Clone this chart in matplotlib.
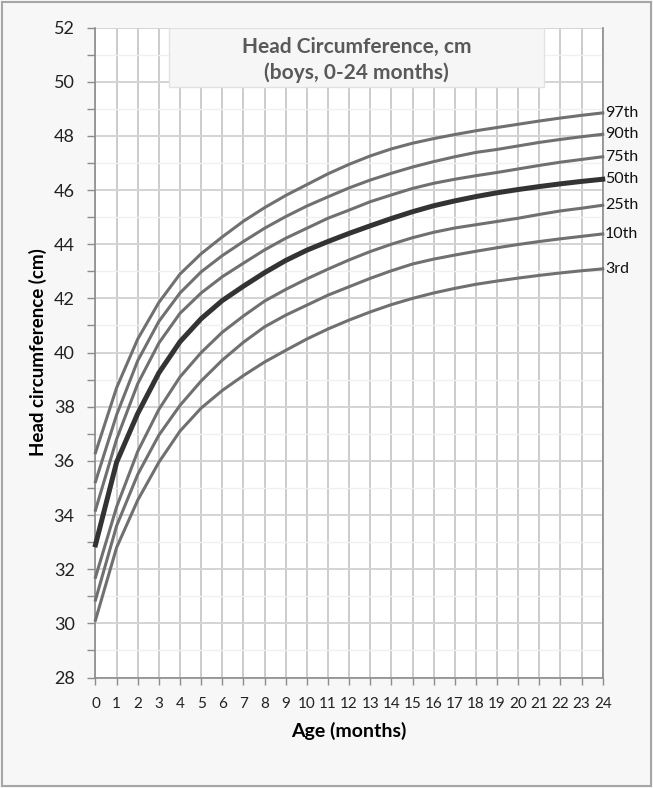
import matplotlib.pyplot as plt
from matplotlib.patches import Rectangle

plt.rcParams['font.family'] = ['Lato', 'DejaVu Sans']

# Head circumference (cm), boys at each month
months = list(range(25))
p3 = [30.12, 32.8, 34.55, 35.95, 37.1, 37.95, 38.6, 39.15, 39.65, 40.08, 40.5, 40.87, 41.2,
      41.5, 41.77, 42.0, 42.2, 42.37, 42.52, 42.64, 42.75, 42.85, 42.94, 43.02, 43.09]
p10 = [30.86, 33.6, 35.5, 36.95, 38.05, 38.95, 39.72, 40.38, 40.95, 41.38, 41.75, 42.12, 42.43,
       42.74, 43.02, 43.27, 43.45, 43.6, 43.74, 43.87, 43.99, 44.1, 44.2, 44.29, 44.38]
p25 = [31.7, 34.3, 36.35, 37.9, 39.1, 40.0, 40.75, 41.35, 41.9, 42.33, 42.72, 43.08, 43.42,
       43.73, 44.0, 44.24, 44.44, 44.6, 44.72, 44.84, 44.96, 45.1, 45.23, 45.33, 45.44]
p50 = [32.9, 35.95, 37.75, 39.25, 40.4, 41.25, 41.92, 42.45, 42.95, 43.4, 43.78, 44.1, 44.4,
       44.68, 44.95, 45.2, 45.42, 45.6, 45.76, 45.9, 46.02, 46.13, 46.23, 46.32, 46.4]
p75 = [34.18, 36.8, 38.85, 40.35, 41.45, 42.2, 42.8, 43.3, 43.79, 44.22, 44.59, 44.96, 45.26,
       45.57, 45.82, 46.06, 46.25, 46.4, 46.53, 46.65, 46.78, 46.91, 47.03, 47.13, 47.23]
p90 = [35.23, 37.7, 39.7, 41.15, 42.2, 42.98, 43.58, 44.1, 44.59, 45.02, 45.41, 45.75, 46.08,
       46.37, 46.62, 46.85, 47.05, 47.23, 47.39, 47.5, 47.63, 47.76, 47.87, 47.97, 48.06]
p97 = [36.3, 38.7, 40.5, 41.85, 42.9, 43.65, 44.27, 44.85, 45.35, 45.8, 46.2, 46.6, 46.95,
       47.26, 47.52, 47.73, 47.9, 48.05, 48.19, 48.31, 48.43, 48.55, 48.66, 48.76, 48.85]

curves = [p3, p10, p25, p50, p75, p90, p97]
labels = ['3rd', '10th', '25th', '50th', '75th', '90th', '97th']

fig = plt.figure(figsize=(6.53, 7.88), dpi=100, facecolor='#f7f7f7')
fig.patches.append(Rectangle((0.003, 0.003), 0.994, 0.994, transform=fig.transFigure,
                             fill=False, edgecolor='#a6a6a6', linewidth=1.5))
ax = fig.add_axes([0.1462, 0.1402, 0.7768, 0.8248])
ax.set_facecolor('white')

ax.set_xlim(0, 24)
ax.set_ylim(28, 52)
ax.set_xticks(range(0, 25))
ax.set_yticks(range(28, 53, 2))
ax.set_yticks(range(29, 52, 2), minor=True)

ax.grid(which='major', axis='y', color='#d4d4d4', linewidth=1.4)
ax.grid(which='minor', axis='y', color='#f0f0f0', linewidth=1.0)
ax.grid(which='major', axis='x', color='#cccccc', linewidth=1.4)
ax.set_axisbelow(True)

for s in ['left', 'bottom', 'right']:
    ax.spines[s].set_color('#8c8c8c')
    ax.spines[s].set_linewidth(1.2)
ax.spines['top'].set_visible(False)

ax.tick_params(axis='both', which='both', direction='out', color='#8c8c8c', width=1.0)
ax.tick_params(axis='y', which='major', length=6, labelsize=13, pad=9, labelcolor='#222222')
ax.tick_params(axis='y', which='minor', length=6)
ax.tick_params(axis='x', which='major', length=5, labelsize=11, pad=9, labelcolor='#222222')

for vals, lab in zip(curves, labels):
    if lab == '50th':
        ax.plot(months, vals, color='#333333', linewidth=3.6, zorder=4, clip_on=False,
                solid_joinstyle='round')
    else:
        ax.plot(months, vals, color='#707070', linewidth=2.2, zorder=3, clip_on=False,
                solid_joinstyle='round')
    ax.text(24.1, vals[-1], lab, fontsize=11.5, va='center', ha='left', color='#111111')

ax.set_xlabel('Age (months)', fontsize=14, fontweight='bold', labelpad=8)
ax.set_ylabel('Head circumference (cm)', fontsize=13.5, fontweight='bold', labelpad=5)

# title box inside the plot area
ax.add_patch(Rectangle((3.48, 49.8), 17.75, 2.2, facecolor='#f6f6f6', edgecolor='#e2e2e2',
                       linewidth=1.0, zorder=5))
ax.text(12.35, 51.28, 'Head Circumference, cm', fontsize=15, fontweight='bold',
        color='#595959', ha='center', va='center', zorder=6)
ax.text(12.35, 50.32, '(boys, 0-24 months)', fontsize=15, fontweight='bold',
        color='#595959', ha='center', va='center', zorder=6)

fig.savefig('out.png', dpi=100, facecolor=fig.get_facecolor())
